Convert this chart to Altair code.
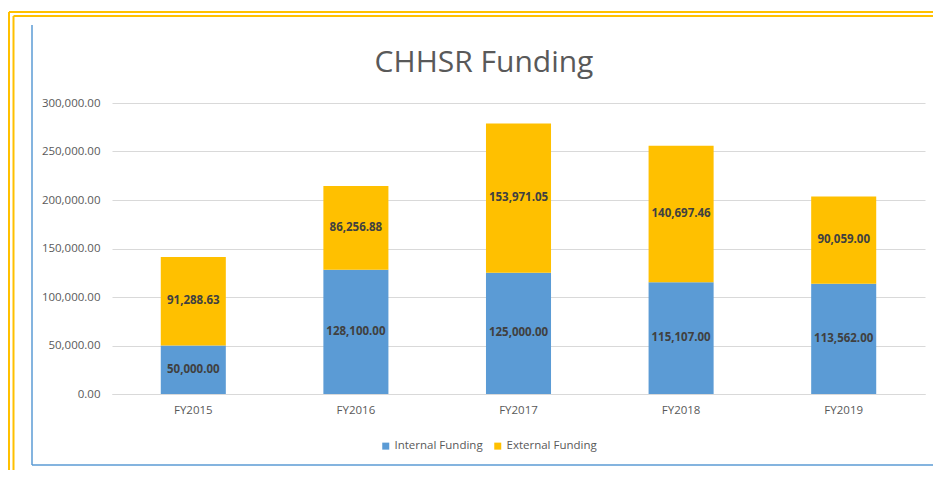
import altair as alt
import pandas as pd

categories = ["FY2015", "FY2016", "FY2017", "FY2018", "FY2019"]
internal = [50000.00, 128100.00, 125000.00, 115107.00, 113562.00]
external = [91288.63, 86256.88, 153971.05, 140697.46, 90059.00]
series_names = ["Internal Funding", "External Funding"]
colors = ["#5B9BD5", "#FFC000"]

rows = []
for c, i, e in zip(categories, internal, external):
    rows.append({"cat": c, "series": series_names[0], "order": 0, "value": i,
                 "y0": 0.0, "y1": i})
    rows.append({"cat": c, "series": series_names[1], "order": 1, "value": e,
                 "y0": i, "y1": i + e})
df = pd.DataFrame(rows)
df["mid"] = (df["y0"] + df["y1"]) / 2
df["label"] = df["value"].map(lambda v: f"{v:,.2f}")

W, H = 813, 291
FONT = "Open Sans"

xenc = alt.X("cat:N", sort=categories, title=None,
             scale=alt.Scale(paddingInner=0.6, paddingOuter=0.3),
             axis=alt.Axis(labelAngle=0, ticks=False, domain=True, domainColor="#D9D9D9",
                           labelFont=FONT, labelFontSize=11.5, labelColor="#595959",
                           labelPadding=10))
yscale = alt.Scale(domain=[0, 300000])

bars = alt.Chart(df).mark_bar().encode(
    x=xenc,
    y=alt.Y("y1:Q", scale=yscale, title=None,
            axis=alt.Axis(values=[0, 50000, 100000, 150000, 200000, 250000, 300000],
                          format=",.2f", ticks=False, domain=False,
                          gridColor="#D9D9D9", gridWidth=1,
                          labelFont=FONT, labelFontSize=11.5, labelColor="#595959",
                          labelPadding=12)),
    y2="y0:Q",
    color=alt.Color("series:N", sort=series_names,
                    scale=alt.Scale(domain=series_names, range=colors),
                    legend=alt.Legend(title=None, orient="none", direction="horizontal",
                                      legendX=268, legendY=337, symbolType="square",
                                      symbolSize=49, symbolStrokeWidth=0,
                                      labelFont=FONT, labelFontSize=11.5,
                                      labelColor="#595959", labelOffset=3,
                                      columnPadding=9)),
    order="order:Q",
)

labels = alt.Chart(df).mark_text(font=FONT, fontSize=11.5, fontWeight="bold",
                                 color="#404040", baseline="middle").encode(
    x=alt.X("cat:N", sort=categories),
    y=alt.Y("mid:Q", scale=yscale),
    text="label:N",
)

deco = pd.DataFrame({"k": [0]})

def rule(x, x2, y, y2, color, width):
    return alt.Chart(deco).mark_rule(color=color, strokeWidth=width).encode(
        x=alt.value(x), x2=alt.value(x2), y=alt.value(y), y2=alt.value(y2))

gold = "#FFC000"
blue = "#5B9BD5"
frames = [
    rule(-103, 829, -91, -91, gold, 2),
    rule(-103, -103, -91, 380, gold, 2),
    rule(-98.5, 829, -87, -87, gold, 2),
    rule(-98.5, -98.5, -87, 380, gold, 2),
    rule(-80, -80, -78, 362, blue, 1.5),
    rule(-80, 823, 362, 362, blue, 1.5),
]

title = alt.Chart(deco).mark_text(font=FONT, fontSize=30, color="#595959",
                                  align="center", baseline="alphabetic").encode(
    x=alt.value(372), y=alt.value(-31), text=alt.value("CHHSR Funding"))

chart = alt.layer(bars, labels, *frames, title).properties(
    width=W, height=H,
    autosize=alt.AutoSizeParams(type="none"),
    padding={"left": 104, "top": 95, "right": 8, "bottom": 76},
    background="white",
).configure_view(stroke=None)

chart.save("out.html", embed_options={"renderer": "svg", "actions": False})
